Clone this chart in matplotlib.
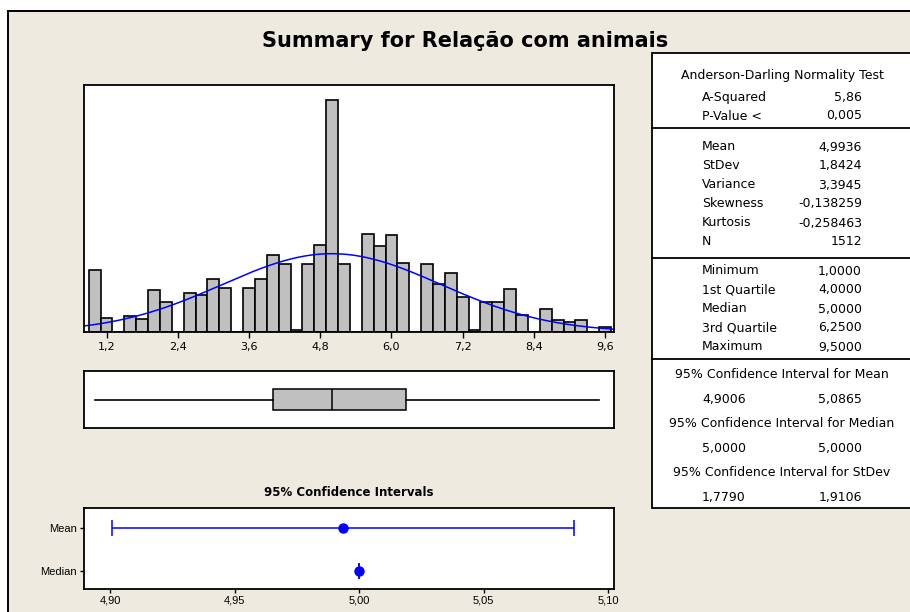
import numpy as np
import matplotlib
matplotlib.use("Agg")
import matplotlib.pyplot as plt
from matplotlib.patches import Rectangle

plt.rcParams['font.family'] = ['DejaVu Sans']

# histogram counts, bins of width 0.2 centred on 1.0, 1.2, ... 9.6
bin_start = 1.0
bin_width = 0.2
counts = [52, 12, 0, 13, 11, 35, 25, 0, 33, 31, 44, 37, 0, 37, 44, 64, 57, 2,
          57, 73, 194, 57, 0, 82, 72, 81, 58, 0, 57, 40, 49, 29, 2, 25, 25, 36,
          14, 0, 19, 10, 8, 10, 0, 4]
hist_ticks = [1.2, 2.4, 3.6, 4.8, 6.0, 7.2, 8.4, 9.6]

# summary statistics
n_obs = 1512
mean, stdev = 4.9936, 1.8424
minimum, q1, median, q3, maximum = 1.0, 4.0, 5.0, 6.25, 9.5
ci_mean = (4.9006, 5.0865)
ci_median = (5.0, 5.0)
ci_ticks = [4.90, 4.95, 5.00, 5.05, 5.10]

ad_rows = [("A-Squared", "5,86"), ("P-Value <", "0,005")]
moment_rows = [("Mean", "4,9936"), ("StDev", "1,8424"), ("Variance", "3,3945"),
               ("Skewness", "-0,138259"), ("Kurtosis", "-0,258463"), ("N", "1512")]
quart_rows = [("Minimum", "1,0000"), ("1st Quartile", "4,0000"), ("Median", "5,0000"),
              ("3rd Quartile", "6,2500"), ("Maximum", "9,5000")]
ci_rows = [("95% Confidence Interval for Mean", "4,9006", "5,0865"),
           ("95% Confidence Interval for Median", "5,0000", "5,0000"),
           ("95% Confidence Interval for StDev", "1,7790", "1,9106")]

W, H = 910, 612
BG = "#EEEAE0"
GRAY = "#C0C0C0"
BLUE = "#0000FF"
NARROW = ['Liberation Sans Narrow', 'Liberation Sans', 'DejaVu Sans']


def px_axes(fig, left, top, right, bottom):
    return fig.add_axes([left / W, 1 - bottom / H, (right - left) / W, (bottom - top) / H])


def ptext(fig, x, y, s, **kw):
    fig.text(x / W, 1 - y / H, s, **kw)


def comma(v, fmt):
    return format(v, fmt).replace(".", ",")


fig = plt.figure(figsize=(W / 100, H / 100), dpi=100, facecolor="white")

# beige panel with black frame
fig.patches.append(Rectangle((8 / W, -0.05), 1.1, 1 - 10.7 / H + 0.05,
                             transform=fig.transFigure, facecolor=BG,
                             edgecolor="black", linewidth=1.4, zorder=-5))

ptext(fig, 465, 41, "Summary for Relação com animais", ha="center", va="center",
      fontsize=15, fontweight="bold")

# --- histogram with fitted normal curve
xlim = (0.82, 9.75)
ax = px_axes(fig, 84, 85, 614, 332)
centers = bin_start + bin_width * np.arange(len(counts))
ax.bar(centers, counts, width=bin_width, color=GRAY, edgecolor="black", linewidth=1.2)
xs = np.linspace(xlim[0], xlim[1], 300)
pdf = np.exp(-0.5 * ((xs - mean) / stdev) ** 2) / (stdev * np.sqrt(2 * np.pi))
ax.plot(xs, n_obs * bin_width * pdf, color=BLUE, linewidth=1.1)
ax.set_xlim(*xlim)
ax.set_ylim(0, 206.5)
ax.set_yticks([])
ax.set_xticks(hist_ticks)
ax.set_xticklabels([comma(t, ".1f") for t in hist_ticks])
ax.tick_params(axis="x", length=4, width=1, labelsize=8, pad=3)
for s in ax.spines.values():
    s.set_linewidth(1.3)

# --- boxplot
bx = px_axes(fig, 84, 371, 614, 428)
bx.boxplot([[minimum, q1, median, q3, maximum]], vert=False, positions=[0],
           widths=0.36, whis=(0, 100), patch_artist=True, showcaps=False,
           boxprops=dict(facecolor=GRAY, edgecolor="black", linewidth=1.1),
           medianprops=dict(color="black", linewidth=1.1),
           whiskerprops=dict(color="black", linewidth=1.2))
bx.set_xlim(*xlim)
bx.set_ylim(-0.5, 0.5)
bx.set_xticks([])
bx.set_yticks([])
for s in bx.spines.values():
    s.set_linewidth(1.3)

# --- confidence intervals
cx = px_axes(fig, 84, 508, 614, 589)
cx.errorbar([mean], [1], xerr=[[mean - ci_mean[0]], [ci_mean[1] - mean]],
            fmt="o", color=BLUE, markersize=6.5, capsize=5.5, elinewidth=1.1,
            capthick=1.1)
cx.errorbar([median], [0], xerr=[[median - ci_median[0]], [ci_median[1] - median]],
            fmt="o", color=BLUE, markersize=6.5, capsize=5.5, elinewidth=1.1,
            capthick=1.1)
cx.set_xlim(4.8895, 5.1024)
cx.set_ylim(-0.42, 1.48)
cx.set_yticks([1, 0])
cx.set_yticklabels(["Mean", "Median"], family=NARROW)
cx.set_xticks(ci_ticks)
cx.set_xticklabels([comma(t, ".2f") for t in ci_ticks], family=NARROW)
cx.tick_params(length=3, width=1, labelsize=8, pad=2)
cx.set_title("95% Confidence Intervals", fontsize=8.5, fontweight="bold", pad=9)
for s in cx.spines.values():
    s.set_linewidth(1.3)

# --- summary table
fig.patches.append(Rectangle((652.3 / W, 1 - 508.3 / H), (920 - 652.3) / W, (508.3 - 53.3) / H,
                             transform=fig.transFigure, facecolor="white",
                             edgecolor="black", linewidth=1.3, zorder=1))
for yline in (128, 258, 359):
    fig.lines.append(plt.Line2D([652.3 / W, 1.0], [1 - yline / H] * 2,
                                transform=fig.transFigure, color="black",
                                linewidth=1.3, zorder=2))

LX, RX, CX = 702, 862, 782
fs = 9
ptext(fig, CX, 75, "Anderson-Darling Normality Test", ha="center", va="center", fontsize=fs)
row_y = {0: [97, 116], 1: [147, 166, 185, 204, 223, 242], 2: [271, 290, 309, 328, 347]}
for grp, rows in enumerate([ad_rows, moment_rows, quart_rows]):
    for (lab, val), y in zip(rows, row_y[grp]):
        ptext(fig, LX, y, lab, ha="left", va="center", fontsize=fs)
        ptext(fig, RX, y, val, ha="right", va="center", fontsize=fs)
for i, (lab, lo, hi) in enumerate(ci_rows):
    y = 375 + 48.5 * i
    ptext(fig, CX, y, lab, ha="center", va="center", fontsize=fs)
    ptext(fig, LX, y + 25, lo, ha="left", va="center", fontsize=fs)
    ptext(fig, RX, y + 25, hi, ha="right", va="center", fontsize=fs)

fig.savefig("out.png", dpi=100, facecolor="white")
